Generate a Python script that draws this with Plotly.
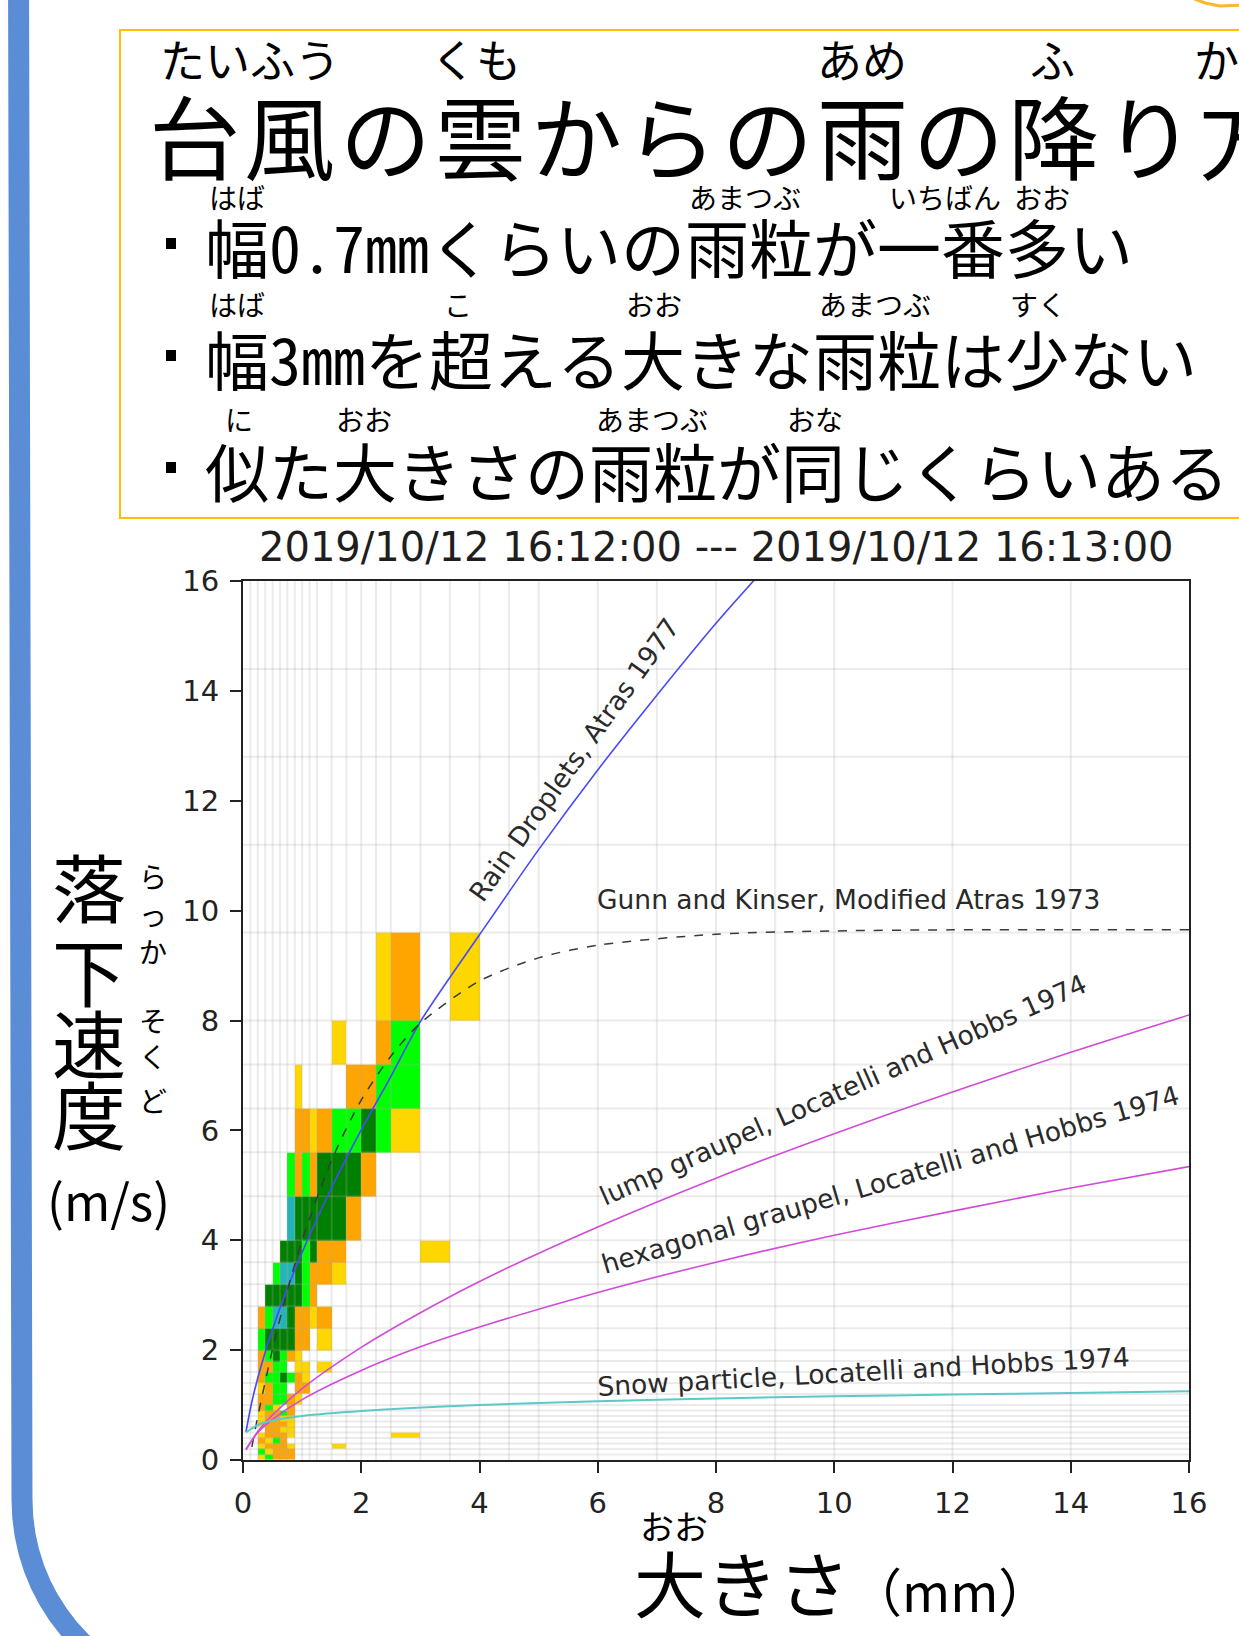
import math
import plotly.graph_objects as go

# ---------------- data ----------------
# Parsivel size classes (mm) and fall-speed classes (m/s): bin boundaries
diam_edges = [0.0, 0.125, 0.25, 0.375, 0.5, 0.625, 0.75, 0.875, 1.0, 1.125,
              1.25, 1.5, 1.75, 2.0, 2.25, 2.5, 3.0, 3.5, 4.0, 4.5, 5.0,
              6.0, 7.0, 8.0, 9.0, 10.0, 12.0, 14.0, 16.0]
vel_edges = [0.0, 0.1, 0.2, 0.3, 0.4, 0.5, 0.6, 0.7, 0.8, 0.9, 1.0,
             1.2, 1.4, 1.6, 1.8, 2.0, 2.4, 2.8, 3.2, 3.6, 4.0,
             4.8, 5.6, 6.4, 7.2, 8.0, 9.6, 11.2, 12.8, 14.4, 16.0]

# drop-count class per bin (rows: speed classes from 0 m/s, cols: size classes from 0 mm)
# 0 = none, 1..5 = increasing counts
count_class = [
    [0, 0, 1, 3, 2, 2, 2, 0, 0, 0, 0, 0, 0, 0, 0, 0, 0, 0],  # 0.0-0.1
    [0, 0, 3, 1, 2, 2, 2, 0, 0, 0, 0, 0, 0, 0, 0, 0, 0, 0],  # 0.1-0.2
    [0, 0, 1, 2, 2, 2, 1, 0, 0, 0, 0, 1, 0, 0, 0, 0, 0, 0],  # 0.2-0.3
    [0, 0, 2, 1, 3, 2, 0, 0, 0, 0, 0, 0, 0, 0, 0, 0, 0, 0],  # 0.3-0.4
    [0, 0, 1, 2, 2, 2, 1, 0, 0, 0, 0, 0, 0, 0, 0, 1, 0, 0],  # 0.4-0.5
    [0, 0, 0, 2, 2, 1, 1, 0, 0, 0, 0, 0, 0, 0, 0, 0, 0, 0],  # 0.5-0.6
    [0, 0, 1, 2, 2, 2, 1, 0, 0, 0, 0, 0, 0, 0, 0, 0, 0, 0],  # 0.6-0.7
    [0, 0, 1, 2, 2, 1, 1, 0, 0, 0, 0, 0, 0, 0, 0, 0, 0, 0],  # 0.7-0.8
    [0, 0, 1, 2, 2, 3, 2, 0, 0, 0, 0, 0, 0, 0, 0, 0, 0, 0],  # 0.8-0.9
    [0, 0, 2, 3, 1, 0, 2, 0, 0, 0, 0, 0, 0, 0, 0, 0, 0, 0],  # 0.9-1.0
    [0, 0, 2, 2, 3, 3, 2, 1, 0, 0, 0, 0, 0, 0, 0, 0, 0, 0],  # 1.0-1.2
    [0, 0, 1, 2, 3, 3, 0, 2, 2, 0, 0, 0, 0, 0, 0, 0, 0, 0],  # 1.2-1.4
    [0, 0, 2, 3, 3, 4, 3, 2, 1, 0, 0, 0, 0, 0, 0, 0, 0, 0],  # 1.4-1.6
    [0, 0, 2, 2, 3, 3, 0, 1, 1, 0, 1, 0, 0, 0, 0, 0, 0, 0],  # 1.6-1.8
    [0, 0, 2, 3, 4, 3, 2, 1, 0, 0, 0, 0, 0, 0, 0, 0, 0, 0],  # 1.8-2.0
    [0, 0, 3, 4, 4, 4, 4, 2, 2, 0, 1, 0, 0, 0, 0, 0, 0, 0],  # 2.0-2.4
    [0, 0, 2, 3, 5, 5, 4, 2, 2, 1, 2, 0, 0, 0, 0, 0, 0, 0],  # 2.4-2.8
    [0, 0, 0, 4, 4, 4, 4, 4, 3, 2, 0, 0, 0, 0, 0, 0, 0, 0],  # 2.8-3.2
    [0, 0, 0, 0, 3, 5, 5, 4, 3, 2, 2, 1, 0, 0, 0, 0, 0, 0],  # 3.2-3.6
    [0, 0, 0, 0, 0, 4, 4, 4, 3, 4, 2, 2, 0, 0, 0, 0, 1, 0],  # 3.6-4.0
    [0, 0, 0, 0, 0, 0, 5, 4, 4, 4, 4, 4, 2, 0, 0, 0, 0, 0],  # 4.0-4.8
    [0, 0, 0, 0, 0, 0, 3, 2, 3, 2, 4, 4, 4, 2, 0, 0, 0, 0],  # 4.8-5.6
    [0, 0, 0, 0, 0, 0, 0, 2, 2, 1, 2, 3, 3, 4, 3, 1, 0, 0],  # 5.6-6.4
    [0, 0, 0, 0, 0, 0, 0, 1, 0, 0, 0, 0, 2, 2, 3, 3, 0, 0],  # 6.4-7.2
    [0, 0, 0, 0, 0, 0, 0, 0, 0, 0, 0, 1, 0, 0, 2, 3, 0, 0],  # 7.2-8.0
    [0, 0, 0, 0, 0, 0, 0, 0, 0, 0, 0, 0, 0, 0, 1, 2, 0, 1],  # 8.0-9.6
]
class_colors = ["#FFD700", "#FFA500", "#00FF00", "#008000", "#22B4B6"]

# reference fall-speed curves (diameter mm -> speed m/s)
rain_d = [0.05, 0.15, 0.3, 0.5, 0.75, 1.0, 1.5, 2.0, 2.5, 3.0, 4.0, 5.0, 6.0, 7.0, 8.0, 8.8]
rain_v = [0.51, 1.06, 1.69, 2.38, 3.12, 3.78, 4.96, 6.01, 6.98, 7.98, 9.56, 11.11, 12.56, 13.92, 15.23, 16.2]

gk_d = [0.15, 0.25, 0.5, 0.75, 1.0, 1.5, 2.0, 2.5, 3.0, 4.0, 5.0, 6.0, 8.0, 10.0, 12.0, 14.0, 16.0]
gk_v = [0.24, 0.79, 2.02, 3.08, 4.00, 5.46, 6.55, 7.35, 7.95, 8.72, 9.14, 9.37, 9.57, 9.63, 9.65, 9.65, 9.65]

lump_d = [0.05, 0.25, 0.5, 1.0, 2.0, 3.0, 4.0, 6.0, 8.0, 10.0, 12.0, 14.0, 16.0]
lump_v = [0.18, 0.52, 0.82, 1.30, 2.05, 2.68, 3.25, 4.24, 5.13, 5.94, 6.70, 7.42, 8.10]

hex_d = [0.05, 0.25, 0.5, 1.0, 2.0, 3.0, 4.0, 6.0, 8.0, 10.0, 12.0, 14.0, 16.0]
hex_v = [0.20, 0.50, 0.74, 1.10, 1.63, 2.06, 2.42, 3.05, 3.60, 4.09, 4.53, 4.95, 5.34]

snow_d = [0.05, 0.25, 0.5, 1.0, 2.0, 4.0, 6.0, 8.0, 10.0, 12.0, 14.0, 16.0]
snow_v = [0.50, 0.64, 0.72, 0.80, 0.89, 1.00, 1.07, 1.12, 1.16, 1.19, 1.22, 1.25]

axis_ticks = [0, 2, 4, 6, 8, 10, 12, 14, 16]
chart_title = "2019/10/12 16:12:00 --- 2019/10/12 16:13:00"

# ---------------- page geometry (pixels) ----------------
W, H = 1239, 1636
ML, MR, MT, MB = 243, 50, 581, 176
PW, PH = W - ML - MR, H - MT - MB


def px(x):
    return (x - ML) / PW


def py(y):
    return (MT + PH - y) / PH


JP = "Noto Sans CJK JP"
JP_MONO = "Noto Sans Mono CJK JP, Noto Sans CJK JP"
DV = "DejaVu Sans"

fig = go.Figure()

# drop-count histogram
ncol = len(count_class[0])
nrow = len(count_class)
z = [[(c if c > 0 else None) for c in row] for row in count_class]
n = len(class_colors)
scale = []
for i, col in enumerate(class_colors):
    scale += [[i / n, col], [(i + 1) / n, col]]
fig.add_trace(go.Heatmap(
    x=diam_edges[:ncol + 1], y=vel_edges[:nrow + 1], z=z,
    colorscale=scale, zmin=0.5, zmax=n + 0.5, showscale=False,
    hoverinfo="skip", zsmooth=False,
))

# class-boundary grid, drawn above the histogram and below the curves
gx, gy = [], []
for e in diam_edges[1:-1]:
    gx += [e, e, None]
    gy += [0, 16, None]
for e in vel_edges[1:-1]:
    gx += [0, 16, None]
    gy += [e, e, None]
fig.add_trace(go.Scatter(x=gx, y=gy, mode="lines", hoverinfo="skip",
                         line=dict(color="rgba(170,170,170,0.24)", width=2),
                         showlegend=False))

# fall-speed relations
curves = [
    (rain_d, rain_v, "#4848ff", None, 1.6),
    (gk_d, gk_v, "#3a3a3a", "dash", 1.5),
    (lump_d, lump_v, "#d04cd8", None, 1.6),
    (hex_d, hex_v, "#d04cd8", None, 1.6),
    (snow_d, snow_v, "#5cc9c9", None, 2.0),
]
for xd, yv, col, dash, lw in curves:
    fig.add_trace(go.Scatter(x=xd, y=yv, mode="lines", hoverinfo="skip",
                             line=dict(color=col, width=lw, dash=dash, shape="spline", smoothing=0.8),
                             showlegend=False))

ann = []

# curve labels
lab_font = dict(family=DV, size=26.5, color="#2a2a2a")
for txt, x, y, ang, xa in [
    ("Rain Droplets, Atras 1977", 5.6, 12.75, -54.5, "center"),
    ("Gunn and Kinser, Modified Atras 1973", 5.95, 10.21, 0, "left"),
    ("lump graupel, Locatelli and Hobbs 1974", 10.15, 6.75, -24, "center"),
    ("hexagonal graupel, Locatelli and Hobbs 1974", 10.95, 5.1, -16.5, "center"),
    ("Snow particle, Locatelli and Hobbs 1974", 10.5, 1.62, -3.2, "center"),
]:
    ann.append(dict(text=txt, x=x, y=y, xref="x", yref="y", textangle=ang,
                    xanchor=xa, yanchor="middle", showarrow=False, font=lab_font))


def text(t, x, y, size, xa="center", family=JP, color="#000000"):
    ann.append(dict(text=t, x=px(x), y=py(y), xref="paper", yref="paper",
                    xanchor=xa, yanchor="middle", showarrow=False,
                    font=dict(family=family, size=size, color=color)))


# chart title
text(chart_title, 716, 547, 40, family=DV, color="#1e1e1e")

# heading box: the heading is set one character at a time on a wide pitch (ruby spacing)
heading = "台風の雲からの雨の降り方"
for i, ch in enumerate(heading):
    text(ch, 194 + i * 95.5, 133, 91)
for t, cx in [("たいふう", 250), ("くも", 476), ("あめ", 862), ("ふ", 1052), ("か", 1216)]:
    text(t, cx, 58, 45)

lines = [
    ("幅0.7mmくらいの雨粒が一番多い", 243, 197,
     [("はば", 237), ("あまつぶ", 745), ("いちばん", 945), ("おお", 1042)]),
    ("幅3mmを超える大きな雨粒は少ない", 355, 304,
     [("はば", 237), ("こ", 458), ("おお", 654), ("あまつぶ", 875), ("すく", 1038)]),
    ("似た大きさの雨粒が同じくらいある", 467, 419,
     [("に", 239), ("おお", 364), ("あまつぶ", 652), ("おな", 815)]),
]
shapes = []
for body, yc, yr, rubies in lines:
    text(body, 203, yc + 2, 64, xa="left", family=JP_MONO)
    for t, cx in rubies:
        text(t, cx, yr, 28)
    shapes.append(dict(type="rect", xref="paper", yref="paper",
                       x0=px(166), x1=px(176), y0=py(yc + 6), y1=py(yc - 5),
                       fillcolor="#000000", line=dict(width=0)))

# axis titles
for ch, cy in [("落", 884), ("下", 968), ("速", 1040), ("度", 1111)]:
    text(ch, 89, cy, 74)
for ch, cy in [("ら", 876), ("っ", 914), ("か", 951), ("そ", 1020), ("く", 1056), ("ど", 1100)]:
    text(ch, 153, cy, 28)
text("(m/s)", 108, 1199, 50)

text("おお", 674, 1525, 34)
ann.append(dict(text='大きさ<span style="font-size:52px">（mm）</span>',
                x=px(632), y=py(1580), xref="paper", yref="paper",
                xanchor="left", yanchor="middle", showarrow=False,
                font=dict(family=JP, size=72, color="#000000")))

# slide frame: blue rounded border on the left
pts = [(18.5, -40), (22, 1500)]
for k in range(1, 19):
    th = math.radians(5 * k)
    pts.append((222 - 200 * math.cos(th), 1500 + 200 * math.sin(th)))
pts.append((1400, 1700))
path = "M " + " L ".join(f"{px(x):.5f},{py(y):.5f}" for x, y in pts)
shapes.append(dict(type="path", xref="paper", yref="paper", path=path,
                   line=dict(color="#5a8dd6", width=21)))

# yellow heading box and the corner ornament
shapes.append(dict(type="rect", xref="paper", yref="paper",
                   x0=px(120), x1=px(1320), y0=py(518), y1=py(30),
                   line=dict(color="#FFC000", width=2)))
orn = [(1192, -2), (1205, 3), (1220, 6), (1245, 5)]
shapes.append(dict(type="path", xref="paper", yref="paper",
                   path="M " + " L ".join(f"{px(x):.5f},{py(y):.5f}" for x, y in orn),
                   line=dict(color="#F5B830", width=3)))

axis_common = dict(
    range=[0, 16], tickvals=axis_ticks, ticktext=[str(v) for v in axis_ticks],
    ticks="outside", ticklen=11, tickwidth=2, tickcolor="#222222",
    showline=True, linecolor="#222222", linewidth=2, mirror=True,
    showgrid=False, zeroline=False, ticklabelstandoff=5,
    tickfont=dict(family=DV, size=29, color="#222222"),
)

fig.update_layout(
    width=W, height=H,
    margin=dict(l=ML, r=MR, t=MT, b=MB, pad=0),
    paper_bgcolor="white", plot_bgcolor="white",
    xaxis=axis_common, yaxis=axis_common,
    annotations=ann, shapes=shapes, showlegend=False,
)

fig.write_html("out.html")
